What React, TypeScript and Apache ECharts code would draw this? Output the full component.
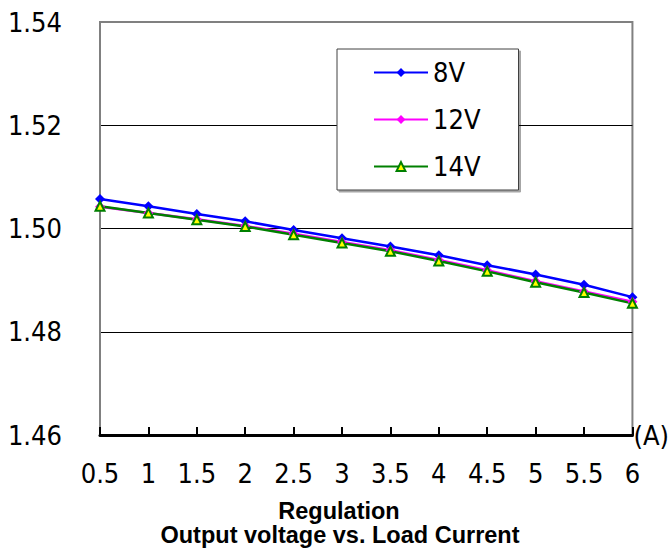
import React, { useEffect, useRef } from "react";
import * as echarts from "echarts";

const currents = ["0.5", "1", "1.5", "2", "2.5", "3", "3.5", "4", "4.5", "5", "5.5", "6"];
const v8 = [1.5057, 1.5043, 1.5028, 1.5014, 1.4997, 1.4981, 1.4965, 1.4948, 1.4929, 1.4911, 1.4891, 1.4867];
const v12 = [1.5042, 1.5030, 1.5018, 1.5005, 1.4990, 1.4974, 1.4958, 1.4939, 1.4919, 1.4898, 1.4878, 1.4858];
const v14 = [1.5043, 1.5030, 1.5017, 1.5004, 1.4988, 1.4972, 1.4956, 1.4937, 1.4917, 1.4896, 1.4876, 1.4855];
const seriesNames = ["8V", "12V", "14V"];
const titleLines = ["Regulation", "Output voltage vs. Load Current"];
const xUnit = "(A)";

const FONT = '"DejaVu Sans Condensed", "DejaVu Sans", sans-serif';
const TITLE_FONT = '"Liberation Sans", Arial, sans-serif';

export default function App() {
  const ref = useRef<HTMLDivElement>(null);
  useEffect(() => {
    if (!ref.current) return;
    const chart = echarts.init(ref.current, null, { renderer: "svg" });
    chart.setOption({
      animation: false,
      backgroundColor: "#fff",
      grid: {
        left: 100,
        right: 38,
        top: 22,
        bottom: 115,
        show: true,
        borderColor: "#808080",
        borderWidth: 2,
        backgroundColor: "transparent",
      },
      legend: {
        orient: "vertical",
        left: 337,
        top: 49,
        padding: [10, 38, 10, 36],
        itemWidth: 54,
        itemHeight: 11,
        itemGap: 20,
        backgroundColor: "#fff",
        borderColor: "#404040",
        borderWidth: 1,
        shadowColor: "rgba(0,0,0,0.35)",
        shadowOffsetX: 2,
        shadowOffsetY: 2,
        shadowBlur: 0,
        lineStyle: { width: 2 },
        textStyle: { fontSize: 27, fontFamily: FONT, color: "#000", lineHeight: 27 },
        data: seriesNames,
      },
      xAxis: {
        type: "category",
        data: currents,
        boundaryGap: false,
        name: xUnit,
        nameLocation: "end",
        nameGap: 1,
        nameTextStyle: {
          fontSize: 27,
          fontFamily: FONT,
          color: "#000",
          align: "left",
          verticalAlign: "middle",
          padding: [0, 0, 6, 0],
        },
        axisLine: { lineStyle: { color: "#000", width: 3 } },
        axisTick: { inside: true, length: 8, lineStyle: { color: "#000", width: 2 } },
        axisLabel: { interval: 0, fontSize: 27, fontFamily: FONT, color: "#000", margin: 25 },
        splitLine: { show: false },
      },
      yAxis: {
        type: "value",
        min: 1.46,
        max: 1.54,
        interval: 0.02,
        axisLine: { show: true, lineStyle: { color: "#808080", width: 2 } },
        axisTick: { show: false },
        axisLabel: {
          fontSize: 27,
          fontFamily: FONT,
          color: "#000",
          margin: 38,
          formatter: (v: number) => v.toFixed(2),
        },
        splitLine: {
          show: true,
          showMinLine: false,
          showMaxLine: false,
          lineStyle: { color: "#000", width: 1 },
        },
      },
      series: [
        {
          name: seriesNames[0],
          type: "line",
          data: v8,
          symbol: "diamond",
          symbolSize: 10,
          lineStyle: { color: "#0000FF", width: 2.5 },
          itemStyle: { color: "#0000FF" },
        },
        {
          name: seriesNames[1],
          type: "line",
          data: v12,
          symbol: "diamond",
          symbolSize: 10,
          lineStyle: { color: "#FF00FF", width: 2.5 },
          itemStyle: { color: "#FF00FF" },
        },
        {
          name: seriesNames[2],
          type: "line",
          data: v14,
          symbol: "triangle",
          symbolSize: 9,
          lineStyle: { color: "#008000", width: 2.5 },
          itemStyle: { color: "#FFFF00", borderColor: "#008000", borderWidth: 2 },
        },
      ],
      graphic: [
        {
          type: "text",
          x: 339,
          y: 511,
          style: {
            text: titleLines[0],
            align: "center",
            verticalAlign: "middle",
            font: `bold 23.5px ${TITLE_FONT}`,
            fill: "#000",
          },
        },
        {
          type: "text",
          x: 340,
          y: 535,
          style: {
            text: titleLines[1],
            align: "center",
            verticalAlign: "middle",
            font: `bold 23.5px ${TITLE_FONT}`,
            fill: "#000",
          },
        },
      ],
    });
    return () => chart.dispose();
  }, []);
  return (
    <div
      ref={ref}
      style={{ position: "absolute", left: 0, top: 0, width: 672, height: 550 }}
    />
  );
}
